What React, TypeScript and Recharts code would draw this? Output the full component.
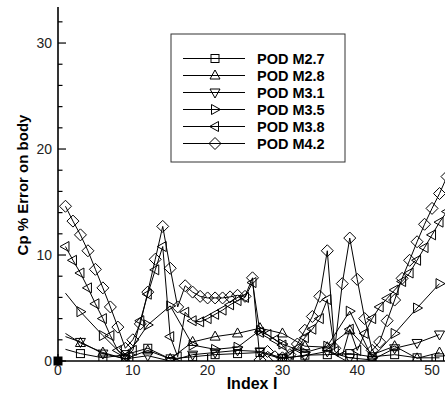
import React from 'react';
import { LineChart, Line, XAxis, YAxis, ReferenceDot, Customized } from 'recharts';

// index I for the densely sampled runs (M3.8, M4.2)
const denseIdx = [
  1, 2, 3, 4, 5, 6, 7, 8, 9, 10, 11, 12, 13, 14, 15, 16, 17, 18, 19, 20, 21, 22, 23, 24, 25, 26,
  27, 28, 29, 30, 31, 32, 33, 34, 35, 36, 37, 38, 39, 40, 41, 42, 43, 44, 45, 46, 47, 48, 49, 50, 51, 52,
];
// index I for the coarse runs (M2.7 .. M3.5)
const sparseIdx = [1, 3, 6, 9, 12, 15, 18, 21, 24, 27, 30, 33, 36, 39, 42, 45, 48, 51];

const m27 = [1.1, 0.7, 0.3, 0.6, 1.2, 0.2, 0.4, 0.6, 0.7, 0.8, 0.2, 0.55, 0.6, 0.7, 0.4, 0.6, 0.3, 0.3];
const m28 = [2.6, 1.7, 0.8, 0.2, 1.0, 0.2, 1.8, 2.3, 2.6, 3.1, 2.6, 1.4, 1.3, 2.9, 0.6, 1.4, 0.25, 0.8];
const m31 = [2.3, 1.8, 0.7, 0.2, 0.5, 0.0, 0.6, 0.8, 1.0, 0.9, 0.3, 0.5, 0.9, 0.3, 0.1, 1.2, 1.7, 2.5];
const m35 = [6.4, 4.65, 2.4, 0.3, 3.4, 5.2, 1.5, 1.1, 1.3, 2.9, 1.6, 0.8, 1.4, 4.7, 0.3, 2.6, 5.0, 7.3];

const m38 = [
  10.8, 9.5, 8.3, 6.9, 5.4, 4.0, 2.4, 1.0, 0.4, 1.0, 3.8, 6.3, 8.6, 10.8, 2.3, 0.4, 4.6, 3.8, 3.7, 4.0,
  4.4, 4.8, 5.3, 5.7, 6.0, 7.4, 2.7, 2.5, 2.0, 1.5, 0.6, 1.2, 2.2, 3.0, 4.0, 5.8, 0.9, 0.5, 3.0, 1.0,
  2.6, 4.0, 5.1, 5.9, 6.7, 7.5, 8.3, 9.5, 10.7, 11.9, 13.1, 14.1,
];
const m42 = [
  14.6, 13.2, 11.9, 10.4, 8.65, 6.9, 5.1, 3.2, 1.2, 2.0, 3.5, 6.5, 9.6, 12.7, 8.75, 5.1, 7.1, 6.5, 6.1, 5.95,
  5.95, 5.95, 6.05, 6.2, 6.1, 7.85, 0.1, 0.9, 0.4, 0.3, 0.6, 1.6, 2.9, 4.2, 6.1, 10.4, 1.2, 7.3, 11.6, 7.7,
  4.0, 1.0, 1.8, 3.8, 5.75, 7.8, 9.5, 11.25, 12.9, 14.4, 15.8, 17.4,
];

const originPoint = { i: 0, v: 0 };

const xTicks = [0, 10, 20, 30, 40, 50];
const yTicks = [0, 2, 4, 6, 8, 10, 12, 14, 16, 18, 20, 22, 24, 26, 28, 30, 32];

type Kind = 'square' | 'up' | 'down' | 'right' | 'left' | 'diamond';

const series: { key: string; name: string; kind: Kind; sparse: boolean }[] = [
  { key: 'm27', name: 'POD M2.7', kind: 'square', sparse: true },
  { key: 'm28', name: 'POD M2.8', kind: 'up', sparse: true },
  { key: 'm31', name: 'POD M3.1', kind: 'down', sparse: true },
  { key: 'm35', name: 'POD M3.5', kind: 'right', sparse: true },
  { key: 'm38', name: 'POD M3.8', kind: 'left', sparse: false },
  { key: 'm42', name: 'POD M4.2', kind: 'diamond', sparse: false },
];

const buildRows = () => {
  const rows: Record<string, number>[] = denseIdx.map((i, k) => ({ i, m38: m38[k], m42: m42[k] }));
  sparseIdx.forEach((i, k) => {
    const row = rows.find((r) => r.i === i)!;
    row.m27 = m27[k];
    row.m28 = m28[k];
    row.m31 = m31[k];
    row.m35 = m35[k];
  });
  return rows;
};

const data = buildRows();

const font = '"Liberation Sans", Arial, Helvetica, sans-serif';

const Marker = ({ kind, cx, cy }: { kind: Kind; cx: number; cy: number }) => {
  const p = { fill: 'none', stroke: '#000', strokeWidth: 1 };
  switch (kind) {
    case 'square':
      return <rect x={cx - 4} y={cy - 4} width={8} height={8} {...p} />;
    case 'up':
      return <polygon points={`${cx},${cy - 5.5} ${cx - 5},${cy + 3.5} ${cx + 5},${cy + 3.5}`} {...p} />;
    case 'down':
      return <polygon points={`${cx},${cy + 5.5} ${cx - 5},${cy - 3.5} ${cx + 5},${cy - 3.5}`} {...p} />;
    case 'right':
      return <polygon points={`${cx + 5.5},${cy} ${cx - 3.5},${cy - 5} ${cx - 3.5},${cy + 5}`} {...p} />;
    case 'left':
      return <polygon points={`${cx - 5.5},${cy} ${cx + 3.5},${cy - 5} ${cx + 3.5},${cy + 5}`} {...p} />;
    default:
      return <polygon points={`${cx},${cy - 6} ${cx + 6},${cy} ${cx},${cy + 6} ${cx - 6},${cy}`} {...p} />;
  }
};

const makeDot = (s: { key: string; kind: Kind; sparse: boolean }) => (props: any) => {
  const { cx, cy, payload, index } = props;
  const k = `${s.key}-${index}`;
  if (cx == null || cy == null || payload?.[s.key] == null || (s.sparse && payload.i === 1)) return <g key={k} />;
  return <g key={k}><Marker kind={s.kind} cx={cx} cy={cy} /></g>;
};

const XTick = (props: any) => {
  const { x, y, payload } = props;
  return (
    <g>
      <line x1={x} y1={y} x2={x} y2={y - 7} stroke="#000" strokeWidth={1.2} />
      <text x={x} y={y + 14} textAnchor="middle" fontFamily={font} fontSize={14} fill="#222">
        {payload.value}
      </text>
    </g>
  );
};

const YTick = (props: any) => {
  const { x, y, payload } = props;
  const major = payload.value % 10 === 0;
  return (
    <g>
      <line x1={x} y1={y} x2={x + (major ? 8 : 4.5)} y2={y} stroke="#000" strokeWidth={1.2} />
      {major && (
        <text x={x - 6} y={y + 5} textAnchor="end" fontFamily={font} fontSize={14} fill="#222">
          {payload.value}
        </text>
      )}
    </g>
  );
};

const Overlay = () => {
  const rowY = [58.5, 75.5, 92.5, 109.5, 126.5, 143.5];
  return (
    <g>
      <text x={252} y={389} textAnchor="middle" fontFamily={font} fontSize={16} fontWeight="bold" fill="#000">
        Index I
      </text>
      <text
        x={0}
        y={0}
        transform="translate(28,185) rotate(-90)"
        textAnchor="middle"
        fontFamily={font}
        fontSize={15}
        fontWeight="bold"
        fill="#000"
      >
        Cp % Error on body
      </text>
      <rect x={171} y={34} width={174} height={128} fill="#fff" stroke="#333" strokeWidth={1} />
      {series.map((s, k) => (
        <g key={s.key}>
          <line x1={183} y1={rowY[k]} x2={245} y2={rowY[k]} stroke="#000" strokeWidth={1} />
          <Marker kind={s.kind} cx={215} cy={rowY[k]} />
          <text x={257} y={rowY[k] + 5} fontFamily={font} fontSize={14.5} fontWeight="bold" fill="#000">
            {s.name}
          </text>
        </g>
      ))}
    </g>
  );
};

export default function App() {
  return (
    <div style={{ position: 'absolute', left: 0, top: 0, width: 445, height: 396, overflow: 'hidden', background: '#fff' }}>
      <LineChart width={447} height={396} data={data} margin={{ top: 7, right: 0, bottom: 0, left: 0 }}>
        <XAxis
          dataKey="i"
          type="number"
          domain={[0, 52]}
          ticks={xTicks}
          allowDataOverflow
          height={35}
          tickSize={0}
          tickMargin={0}
          tickLine={false}
          axisLine={{ stroke: '#000', strokeWidth: 1.6 }}
          tick={<XTick />}
        />
        <YAxis
          type="number"
          domain={[0, 33.4]}
          ticks={yTicks}
          allowDataOverflow
          width={58}
          tickSize={0}
          tickMargin={0}
          tickLine={false}
          axisLine={{ stroke: '#000', strokeWidth: 1.6 }}
          tick={<YTick />}
          interval={0}
        />
        {series.map((s) => (
          <Line
            key={s.key}
            dataKey={s.key}
            name={s.name}
            type="linear"
            stroke="#000"
            strokeWidth={1}
            connectNulls
            dot={makeDot(s)}
            activeDot={false}
            isAnimationActive={false}
          />
        ))}
        <ReferenceDot
          x={originPoint.i}
          y={originPoint.v}
          ifOverflow="visible"
          shape={(p: any) => <rect x={p.cx - 4.5} y={p.cy - 4.5} width={9} height={9} fill="#000" />}
        />
        <Customized component={Overlay} />
      </LineChart>
    </div>
  );
}
